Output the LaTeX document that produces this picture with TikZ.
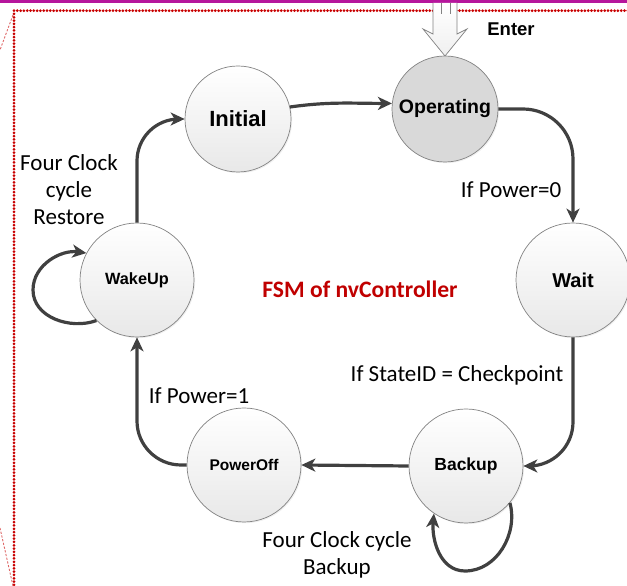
\documentclass[tikz,border=0pt]{standalone}
\usepackage{fontspec}
\setmainfont{Carlito}
\newfontfamily\statefont{Liberation Sans}
\usetikzlibrary{arrows.meta,shadows}

\definecolor{edgegray}{RGB}{64,64,64}
\definecolor{rimgray}{RGB}{130,130,130}
\definecolor{framered}{RGB}{200,0,0}
\definecolor{barmagenta}{RGB}{182,22,156}
\definecolor{titlered}{RGB}{192,0,0}

\tikzset{
  state/.style={circle, draw=rimgray, line width=0.7pt,
    top color=white, bottom color=black!9, shading angle=0,
    drop shadow={opacity=0.12, shadow xshift=1.2pt, shadow yshift=-1.2pt},
    font=\statefont\bfseries, text=black, inner sep=0pt},
  edge/.style={draw=edgegray, line width=3.2pt,
    -{Stealth[length=14pt,width=13pt,inset=4pt]}},
  lbl/.style={font=\fontsize{23}{27}\selectfont, align=center, inner sep=0pt},
  framedot/.style={fill=framered},
  thindash/.style={draw=framered!60, line width=0.9pt, dash pattern=on 2.2pt off 1.6pt}
}

\begin{document}
\begin{tikzpicture}[x=1pt,y=1pt]
\useasboundingbox (0,0) rectangle (627,586);

% page frame: magenta bar and dotted red margin lines
\fill[barmagenta] (0,583.3) rectangle (627,586);
\foreach \x in {14,17.3,...,628}
  \fill[framedot] (\x,575.3) circle (1.5pt);
\foreach \y in {572,568.7,...,-2}
  \fill[framedot] (14,\y) circle (1.5pt);
\draw[thindash] (13,571) -- (0,536);
\draw[thindash] (0,58) -- (13,0);

% entry arrow
\draw[rimgray, line width=0.7pt, top color=white, bottom color=black!6]
  (433,583) -- (433,552) -- (423,557) -- (445,530) -- (467,557) -- (457,552) -- (457,583);
\draw[rimgray, line width=0.6pt] (441,583) -- (441,572) (450,583) -- (450,572);
\node[font=\statefont\bfseries\fontsize{18.5}{20}\selectfont] (enter) at (511,557) {Enter};

% states
\node[state, minimum size=106pt, font=\statefont\bfseries\fontsize{22}{24}\selectfont]
  (init) at (238,467) {Initial};
\node[state, minimum size=106pt, top color=black!15, bottom color=black!15,
  font=\statefont\bfseries\fontsize{19.5}{22}\selectfont]
  (oper) at (445,477) {Operating};
\node[state, minimum size=114pt, font=\statefont\bfseries\fontsize{20}{22}\selectfont]
  (wait) at (573,306) {Wait};
\node[state, minimum size=114pt, font=\statefont\bfseries\fontsize{16.3}{18}\selectfont]
  (wake) at (137,306) {WakeUp};
\node[state, minimum size=114pt, font=\statefont\bfseries\fontsize{17.5}{20}\selectfont]
  (backup) at (466,120) {Backup};
\node[state, minimum size=114pt, font=\statefont\bfseries\fontsize{15.5}{18}\selectfont]
  (poff) at (244,121) {PowerOff};

% transitions
\draw[edge] (init.13) to[out=8,in=180] (oper.174);
\draw[edge, rounded corners=50pt] (oper.east) -| (wait.north);
\draw[edge, rounded corners=44pt] (wait.south) |- (backup.east);
\draw[edge] (backup.west) -- (poff.east);
\draw[edge, rounded corners=44pt] (poff.west) -| (wake.south);
\draw[edge, rounded corners=42pt] (wake.north) |- (init.west);

% self loops
\coordinate (wakeL) at (33,296);
\draw[edge] (wake.225) to[out=200,in=-90] (wakeL) to[out=90,in=172] (wake.152);
\coordinate (backB) at (465,15);
\draw[edge] (backup.-40) to[out=-75,in=0] (backB) to[out=180,in=-95] (backup.-124);

% labels
\node[lbl] (lp0) at (511,396) {If Power=0};
\node[lbl] (lsid) at (457,211) {If StateID = Checkpoint};
\node[lbl] (lp1) at (199,190) {If Power=1};
\node[lbl] (lrest) at (69,396) {Four Clock\\cycle\\Restore};
\node[lbl] (lback) at (337,31) {Four Clock cycle\\Backup};
\node[font=\bfseries\fontsize{23.6}{26}\selectfont, text=titlered] (title) at (360,297) {FSM of nvController};
\end{tikzpicture}
\end{document}
